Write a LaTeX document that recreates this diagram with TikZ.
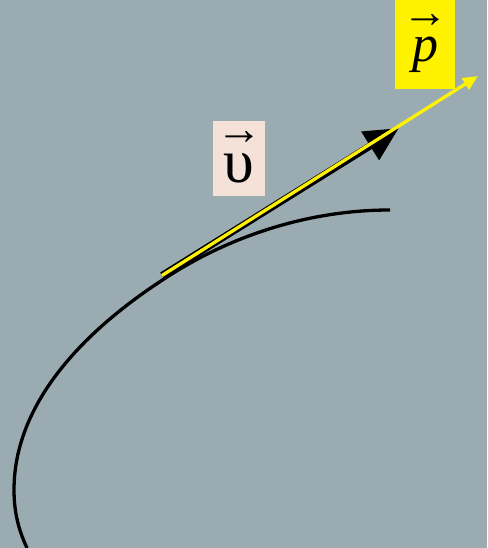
\documentclass[tikz,border=0pt]{standalone}
\usepackage{fontspec}
\setmainfont{Liberation Serif}
\usetikzlibrary{arrows.meta}
\definecolor{bg}{RGB}{154,172,178}
\definecolor{pinkbox}{RGB}{244,225,216}
\newcommand{\arrowover}[3]{\ooalign{\hfil\raisebox{#1}{\fontsize{#2}{#2}\selectfont →}\hfil\cr\hfil#3\hfil\cr}}
\tikzset{
  lbl/.style={inner sep=0pt},
  curvestyle/.style={line width=3.3pt, black},
  vel/.style={line width=7pt, black, -{Triangle[length=34pt,width=32pt]}},
  mom/.style={line width=3.3pt, yellow, -{Triangle[length=15pt,width=13pt]}}
}
\begin{document}
\begin{tikzpicture}[x=1pt,y=1pt]
\fill[bg] (0,0) rectangle (487,548);
\useasboundingbox (0,0) rectangle (487,548);
\draw[curvestyle] (27,0) .. controls (20,15) and (14,33) .. (14,58)
  .. controls (14,148) and (88.5,220) .. (164,269)
  .. controls (231,313) and (310,338) .. (390,338);
\coordinate (o) at (162,272.5);
\coordinate (vt) at (399,420);
\coordinate (pt) at (478,472);
\draw[vel] (o) -- (vt);
\draw[mom] (o) -- (pt);
\node[lbl, fill=yellow, minimum width=60pt, minimum height=89pt, text height=50pt, text depth=15pt] (p) at (425,503.5)
  {\arrowover{34pt}{46}{\fontsize{52}{52}\selectfont\textit{p}}};
\node[lbl, fill=pinkbox, minimum width=52pt, minimum height=75pt, text height=50pt, text depth=1pt] (v) at (239,389.5)
  {\arrowover{38pt}{46}{\fontsize{62}{62}\selectfont υ}};
\end{tikzpicture}
\end{document}
